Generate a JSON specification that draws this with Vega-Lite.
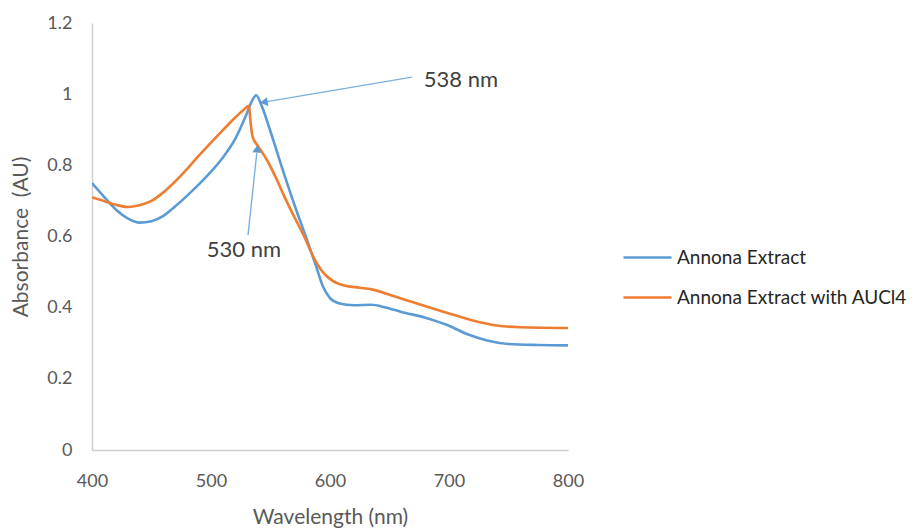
{
  "$schema": "https://vega.github.io/schema/vega-lite/v6.json",
  "width": 476,
  "height": 427,
  "autosize": {"type": "none"},
  "padding": {"left": 92, "top": 23, "right": 347, "bottom": 78},
  "background": "white",
  "config": {
    "font": "Lato",
    "view": {"stroke": null},
    "axis": {"grid": false, "ticks": false, "domainColor": "#D0D0D0", "domainWidth": 1.5, "labelColor": "#595959", "titleColor": "#595959", "labelFont": "Lato", "titleFont": "Lato", "labelFontSize": 18, "titleFontSize": 21, "titleFontWeight": "normal", "labelFlush": false}
  },
  "datasets": {
    "spectra": [
      {"wl": 400, "abs": 0.75, "series": "Annona Extract"},
      {"wl": 410, "abs": 0.712, "series": "Annona Extract"},
      {"wl": 420, "abs": 0.676, "series": "Annona Extract"},
      {"wl": 430, "abs": 0.651, "series": "Annona Extract"},
      {"wl": 440, "abs": 0.639, "series": "Annona Extract"},
      {"wl": 450, "abs": 0.643, "series": "Annona Extract"},
      {"wl": 460, "abs": 0.658, "series": "Annona Extract"},
      {"wl": 470, "abs": 0.685, "series": "Annona Extract"},
      {"wl": 480, "abs": 0.715, "series": "Annona Extract"},
      {"wl": 490, "abs": 0.747, "series": "Annona Extract"},
      {"wl": 500, "abs": 0.782, "series": "Annona Extract"},
      {"wl": 510, "abs": 0.822, "series": "Annona Extract"},
      {"wl": 520, "abs": 0.872, "series": "Annona Extract"},
      {"wl": 530, "abs": 0.945, "series": "Annona Extract"},
      {"wl": 535, "abs": 0.985, "series": "Annona Extract"},
      {"wl": 538, "abs": 0.997, "series": "Annona Extract"},
      {"wl": 542, "abs": 0.972, "series": "Annona Extract"},
      {"wl": 550, "abs": 0.895, "series": "Annona Extract"},
      {"wl": 560, "abs": 0.79, "series": "Annona Extract"},
      {"wl": 570, "abs": 0.69, "series": "Annona Extract"},
      {"wl": 580, "abs": 0.597, "series": "Annona Extract"},
      {"wl": 588, "abs": 0.52, "series": "Annona Extract"},
      {"wl": 594, "abs": 0.46, "series": "Annona Extract"},
      {"wl": 600, "abs": 0.427, "series": "Annona Extract"},
      {"wl": 608, "abs": 0.412, "series": "Annona Extract"},
      {"wl": 620, "abs": 0.407, "series": "Annona Extract"},
      {"wl": 635, "abs": 0.408, "series": "Annona Extract"},
      {"wl": 645, "abs": 0.402, "series": "Annona Extract"},
      {"wl": 660, "abs": 0.388, "series": "Annona Extract"},
      {"wl": 680, "abs": 0.372, "series": "Annona Extract"},
      {"wl": 698, "abs": 0.352, "series": "Annona Extract"},
      {"wl": 715, "abs": 0.326, "series": "Annona Extract"},
      {"wl": 732, "abs": 0.308, "series": "Annona Extract"},
      {"wl": 750, "abs": 0.298, "series": "Annona Extract"},
      {"wl": 775, "abs": 0.295, "series": "Annona Extract"},
      {"wl": 800, "abs": 0.294, "series": "Annona Extract"},
      {"wl": 400, "abs": 0.71, "series": "Annona Extract with AUCl4"},
      {"wl": 410, "abs": 0.7, "series": "Annona Extract with AUCl4"},
      {"wl": 420, "abs": 0.689, "series": "Annona Extract with AUCl4"},
      {"wl": 430, "abs": 0.683, "series": "Annona Extract with AUCl4"},
      {"wl": 440, "abs": 0.688, "series": "Annona Extract with AUCl4"},
      {"wl": 450, "abs": 0.7, "series": "Annona Extract with AUCl4"},
      {"wl": 460, "abs": 0.724, "series": "Annona Extract with AUCl4"},
      {"wl": 470, "abs": 0.755, "series": "Annona Extract with AUCl4"},
      {"wl": 480, "abs": 0.79, "series": "Annona Extract with AUCl4"},
      {"wl": 490, "abs": 0.828, "series": "Annona Extract with AUCl4"},
      {"wl": 500, "abs": 0.864, "series": "Annona Extract with AUCl4"},
      {"wl": 510, "abs": 0.899, "series": "Annona Extract with AUCl4"},
      {"wl": 520, "abs": 0.933, "series": "Annona Extract with AUCl4"},
      {"wl": 527, "abs": 0.955, "series": "Annona Extract with AUCl4"},
      {"wl": 532, "abs": 0.967, "series": "Annona Extract with AUCl4"},
      {"wl": 533, "abs": 0.93, "series": "Annona Extract with AUCl4"},
      {"wl": 535, "abs": 0.88, "series": "Annona Extract with AUCl4"},
      {"wl": 540, "abs": 0.852, "series": "Annona Extract with AUCl4"},
      {"wl": 547, "abs": 0.815, "series": "Annona Extract with AUCl4"},
      {"wl": 555, "abs": 0.762, "series": "Annona Extract with AUCl4"},
      {"wl": 562, "abs": 0.71, "series": "Annona Extract with AUCl4"},
      {"wl": 570, "abs": 0.655, "series": "Annona Extract with AUCl4"},
      {"wl": 578, "abs": 0.602, "series": "Annona Extract with AUCl4"},
      {"wl": 586, "abs": 0.543, "series": "Annona Extract with AUCl4"},
      {"wl": 594, "abs": 0.5, "series": "Annona Extract with AUCl4"},
      {"wl": 602, "abs": 0.476, "series": "Annona Extract with AUCl4"},
      {"wl": 612, "abs": 0.462, "series": "Annona Extract with AUCl4"},
      {"wl": 625, "abs": 0.456, "series": "Annona Extract with AUCl4"},
      {"wl": 637, "abs": 0.45, "series": "Annona Extract with AUCl4"},
      {"wl": 650, "abs": 0.436, "series": "Annona Extract with AUCl4"},
      {"wl": 670, "abs": 0.415, "series": "Annona Extract with AUCl4"},
      {"wl": 698, "abs": 0.386, "series": "Annona Extract with AUCl4"},
      {"wl": 720, "abs": 0.364, "series": "Annona Extract with AUCl4"},
      {"wl": 740, "abs": 0.35, "series": "Annona Extract with AUCl4"},
      {"wl": 760, "abs": 0.345, "series": "Annona Extract with AUCl4"},
      {"wl": 800, "abs": 0.343, "series": "Annona Extract with AUCl4"}
    ],
    "arrows": [
      {"x1": 668.9, "y1": 1.048, "x2": 547.0, "y2": 0.979},
      {"x1": 531.1, "y1": 0.604, "x2": 538.5, "y2": 0.835}
    ],
    "headLeft": [{"x": 545.4, "y": 0.978}],
    "headUp": [{"x": 538.7, "y": 0.843}],
    "labels": [
      {"x": 710, "y": 1.04, "text": "538 nm"},
      {"x": 527.7, "y": 0.562, "text": "530 nm"}
    ]
  },
  "layer": [
    {
      "data": {"name": "spectra"},
      "mark": {"type": "line", "interpolate": "monotone", "strokeWidth": 2.6, "clip": true},
      "encoding": {
        "x": {"field": "wl", "type": "quantitative", "scale": {"domain": [400, 800], "nice": false}, "axis": {"title": "Wavelength (nm)", "values": [400, 500, 600, 700, 800], "labelPadding": 22, "titlePadding": 16}},
        "y": {"field": "abs", "type": "quantitative", "scale": {"domain": [0, 1.2], "nice": false}, "axis": {"title": "Absorbance\u00a0\u00a0(AU)", "values": [0, 0.2, 0.4, 0.6, 0.8, 1, 1.2], "format": "~g", "labelPadding": 20, "titlePadding": 15}},
        "color": {"field": "series", "type": "nominal", "scale": {"domain": ["Annona Extract", "Annona Extract with AUCl4"], "range": ["#5B9BD5", "#ED7D31"]}, "legend": {"title": null, "orient": "none", "legendX": 530, "legendY": 209, "symbolType": "stroke", "symbolSize": 2304, "symbolStrokeWidth": 2.6, "labelFont": "Lato", "labelFontSize": 19, "labelColor": "#262626", "labelLimit": 400, "rowPadding": 4, "labelOffset": 4}}
      }
    },
    {
      "data": {"name": "arrows"},
      "mark": {"type": "rule", "color": "#7DB0DE", "strokeWidth": 1.4},
      "encoding": {
        "x": {"field": "x1", "type": "quantitative"},
        "y": {"field": "y1", "type": "quantitative"},
        "x2": {"field": "x2"},
        "y2": {"field": "y2"}
      }
    },
    {
      "data": {"name": "headLeft"},
      "mark": {"type": "point", "shape": "triangle", "filled": true, "color": "#5B9BD5", "opacity": 1, "size": 80, "angle": 261},
      "encoding": {
        "x": {"field": "x", "type": "quantitative"},
        "y": {"field": "y", "type": "quantitative"}
      }
    },
    {
      "data": {"name": "headUp"},
      "mark": {"type": "point", "shape": "triangle", "filled": true, "color": "#5B9BD5", "opacity": 1, "size": 80, "angle": 5},
      "encoding": {
        "x": {"field": "x", "type": "quantitative"},
        "y": {"field": "y", "type": "quantitative"}
      }
    },
    {
      "data": {"name": "labels"},
      "mark": {"type": "text", "font": "Lato", "fontSize": 22, "color": "#404040"},
      "encoding": {
        "x": {"field": "x", "type": "quantitative"},
        "y": {"field": "y", "type": "quantitative"},
        "text": {"field": "text"}
      }
    }
  ]
}
